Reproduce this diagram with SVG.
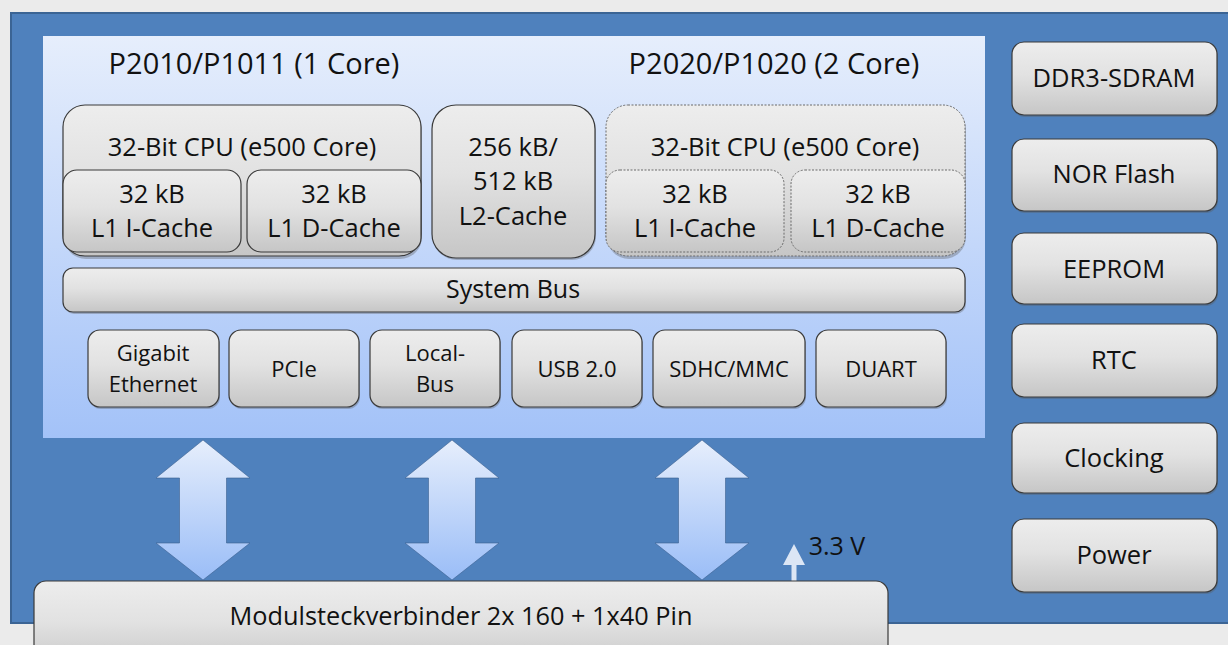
<svg xmlns="http://www.w3.org/2000/svg" width="1228" height="645" viewBox="0 0 1228 645">
<defs>
<linearGradient id="gBox" x1="0" y1="0" x2="0" y2="1">
<stop offset="0" stop-color="#EDEDED"/><stop offset="0.45" stop-color="#E2E2E2"/><stop offset="1" stop-color="#C6C6C6"/>
</linearGradient>
<linearGradient id="gPanel" x1="0" y1="0" x2="0" y2="1">
<stop offset="0" stop-color="#E6EEFC"/><stop offset="1" stop-color="#A3C2F8"/>
</linearGradient>
<linearGradient id="gArrow" x1="0" y1="0" x2="0" y2="1">
<stop offset="0" stop-color="#E6EEFC"/><stop offset="1" stop-color="#9ABDF7"/>
</linearGradient>
<path id="dblArrow" d="M0,0 L47,38 L23.5,38 L23.5,103 L47,103 L0,140 L-47,103 L-23.5,103 L-23.5,38 L-47,38 Z"/>
</defs>
<style>
.box{fill:url(#gBox);stroke:#3a3a3a;stroke-width:1.2}
.dash{fill:url(#gBox);stroke:#6a6a6a;stroke-width:1;stroke-dasharray:2 1.5}
.sh{fill:#5a5a5a;opacity:0.35}
.t{font-family:"Open Sans","DejaVu Sans",sans-serif;fill:#111;text-anchor:middle}
.big{font-size:29px}
.md{font-size:25.5px}
.sm{font-size:22px}
.arr{fill:url(#gArrow);stroke:#3a5f8f;stroke-width:0.6}
</style>
<rect x="0" y="0" width="1228" height="645" fill="#EBEBEB"/>
<g id="board">
<rect x="11" y="13" width="1220" height="610" fill="#4F81BD" stroke="#3B6494" stroke-width="2"/>
</g>
<g id="soc">
<rect x="43" y="36" width="942" height="402" fill="url(#gPanel)"/>
<text class="t big" x="254" y="74">P2010/P1011 (1 Core)</text>
<text class="t big" x="774" y="74">P2020/P1020 (2 Core)</text>
</g>
<g id="cpu1">
<rect class="sh" x="64" y="107" width="358" height="152" rx="22"/>
<rect class="box" x="63" y="105" width="358" height="151" rx="22"/>
<text class="t md" x="242" y="156">32-Bit CPU (e500 Core)</text>
</g>
<g id="l1i-1">
<rect class="box" x="63" y="170" width="178" height="82" rx="14"/>
<text class="t md" x="152" y="203">32 kB</text>
<text class="t md" x="152" y="237">L1 I-Cache</text>
</g>
<g id="l1d-1">
<rect class="box" x="247" y="170" width="174" height="82" rx="14"/>
<text class="t md" x="334" y="203">32 kB</text>
<text class="t md" x="334" y="237">L1 D-Cache</text>
</g>
<g id="l2">
<rect class="sh" x="433" y="107" width="163" height="153" rx="24"/>
<rect class="box" x="432" y="105" width="163" height="153" rx="24"/>
<text class="t md" x="513" y="156">256 kB/</text>
<text class="t md" x="513" y="190">512 kB</text>
<text class="t md" x="513" y="225">L2-Cache</text>
</g>
<g id="cpu2">
<rect class="sh" x="607" y="107" width="359" height="152" rx="22"/>
<rect class="dash" x="606" y="105" width="359" height="151" rx="22"/>
<text class="t md" x="785" y="156">32-Bit CPU (e500 Core)</text>
</g>
<g id="l1i-2">
<rect class="dash" x="606" y="170" width="178" height="82" rx="14"/>
<text class="t md" x="695" y="203">32 kB</text>
<text class="t md" x="695" y="237">L1 I-Cache</text>
</g>
<g id="l1d-2">
<rect class="dash" x="791" y="170" width="174" height="82" rx="14"/>
<text class="t md" x="878" y="203">32 kB</text>
<text class="t md" x="878" y="237">L1 D-Cache</text>
</g>
<g id="sysbus">
<rect class="sh" x="64" y="270" width="902" height="44" rx="10"/>
<rect class="box" x="63" y="268" width="902" height="44" rx="10"/>
<text class="t" style="font-size:25px" x="513" y="298">System Bus</text>
</g>
<g id="eth">
<rect class="sh" x="89" y="332" width="131" height="77" rx="12"/>
<rect class="box" x="88" y="330" width="131" height="77" rx="12"/>
<text class="t sm" x="153" y="361">Gigabit</text>
<text class="t sm" x="153" y="392">Ethernet</text>
</g>
<g id="pcie">
<rect class="sh" x="230" y="332" width="130" height="77" rx="12"/>
<rect class="box" x="229" y="330" width="130" height="77" rx="12"/>
<text class="t sm" x="294" y="377">PCIe</text>
</g>
<g id="localbus">
<rect class="sh" x="371" y="332" width="130" height="77" rx="12"/>
<rect class="box" x="370" y="330" width="130" height="77" rx="12"/>
<text class="t sm" x="435" y="361">Local-</text>
<text class="t sm" x="435" y="392">Bus</text>
</g>
<g id="usb">
<rect class="sh" x="513" y="332" width="130" height="77" rx="12"/>
<rect class="box" x="512" y="330" width="130" height="77" rx="12"/>
<text class="t sm" x="577" y="377">USB 2.0</text>
</g>
<g id="sdhc">
<rect class="sh" x="654" y="332" width="152" height="77" rx="12"/>
<rect class="box" x="653" y="330" width="152" height="77" rx="12"/>
<text class="t sm" x="729" y="377">SDHC/MMC</text>
</g>
<g id="duart">
<rect class="sh" x="817" y="332" width="130" height="77" rx="12"/>
<rect class="box" x="816" y="330" width="130" height="77" rx="12"/>
<text class="t sm" x="881" y="377">DUART</text>
</g>
<g id="ddr3">
<rect class="sh" x="1013" y="44" width="205" height="73" rx="12"/>
<rect class="box" x="1012" y="42" width="205" height="73" rx="12"/>
<text class="t md" x="1114" y="87">DDR3-SDRAM</text>
</g>
<g id="nor">
<rect class="sh" x="1013" y="141" width="205" height="72" rx="12"/>
<rect class="box" x="1012" y="139" width="205" height="72" rx="12"/>
<text class="t md" x="1114" y="183">NOR Flash</text>
</g>
<g id="eeprom">
<rect class="sh" x="1013" y="235" width="205" height="71" rx="12"/>
<rect class="box" x="1012" y="233" width="205" height="71" rx="12"/>
<text class="t md" x="1114" y="278">EEPROM</text>
</g>
<g id="rtc">
<rect class="sh" x="1013" y="326" width="205" height="73" rx="12"/>
<rect class="box" x="1012" y="324" width="205" height="73" rx="12"/>
<text class="t md" x="1114" y="369">RTC</text>
</g>
<g id="clocking">
<rect class="sh" x="1013" y="425" width="205" height="70" rx="12"/>
<rect class="box" x="1012" y="423" width="205" height="70" rx="12"/>
<text class="t md" x="1114" y="467">Clocking</text>
</g>
<g id="power">
<rect class="sh" x="1013" y="521" width="205" height="73" rx="12"/>
<rect class="box" x="1012" y="519" width="205" height="73" rx="12"/>
<text class="t md" x="1114" y="564">Power</text>
</g>
<g id="connectors">
<use href="#dblArrow" class="arr" transform="translate(203,440)"/>
<use href="#dblArrow" class="arr" transform="translate(452,440)"/>
<use href="#dblArrow" class="arr" transform="translate(702,440)"/>
<path d="M794,544 L805,565 L796.5,565 L796.5,586 L791.5,586 L791.5,565 L783,565 Z" fill="#DCE6F5"/>
<text class="t" style="font-size:25px" x="837" y="555">3.3 V</text>
</g>
<g id="connector">
<rect class="box" x="34" y="581" width="854" height="90" rx="12"/>
<text class="t" style="font-size:25.3px" x="461" y="625">Modulsteckverbinder 2x 160 + 1x40 Pin</text>
</g>
</svg>
